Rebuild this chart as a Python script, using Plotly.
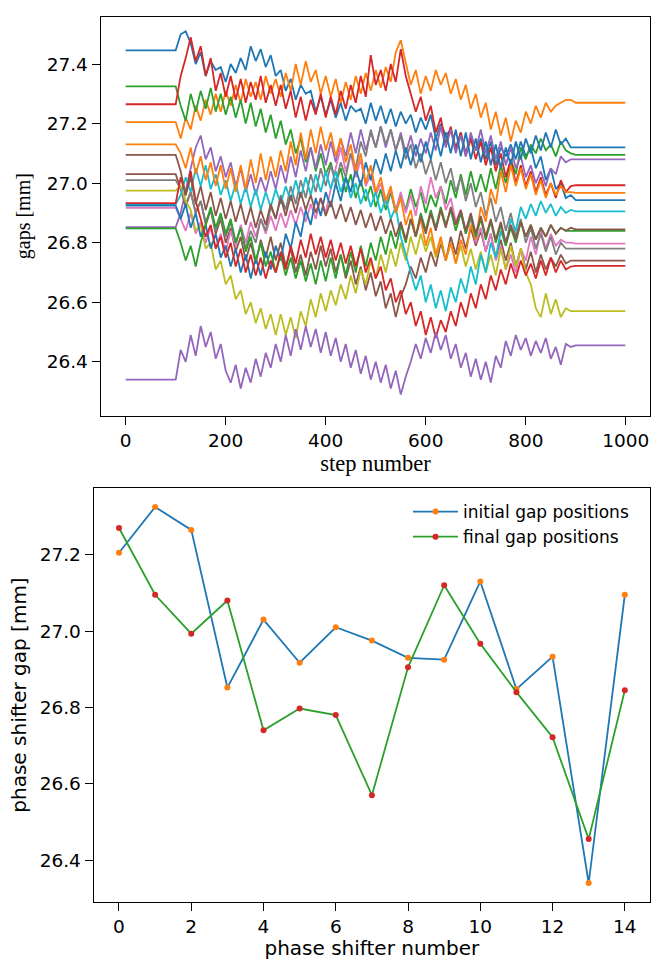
import plotly.graph_objects as go

# ---------------- data ----------------
colors = ['#1f77b4', '#ff7f0e', '#2ca02c', '#d62728', '#9467bd',
          '#8c564b', '#e377c2', '#7f7f7f', '#bcbd22', '#17becf']

# phase shifter gaps (bottom panel, also start/end levels of top panel series 1..15)
ps_number = list(range(15))
ps_initial = [27.205, 27.325, 27.265, 26.852, 27.030, 26.917, 27.010, 26.975,
              26.930, 26.925, 27.130, 26.848, 26.933, 26.340, 27.095]
ps_final = [27.270, 27.095, 26.993, 27.080, 26.740, 26.797, 26.780, 26.570,
            26.905, 27.120, 26.967, 26.840, 26.722, 26.455, 26.845]

# extra (first) series in top panel
s0_initial = 27.446
s0_final = 26.943

# step layout of the top panel
flat_start_steps = [0, 100]
noise_first_step = 110
noise_step = 10
flat_end_steps = [900, 999]

# gap readings during the optimisation (steps 110 ... 890, every 10 steps)
gap_s00 = [27.50, 27.51, 27.47, 27.40, 27.44, 27.36, 27.41, 27.38, 27.39, 27.34,
           27.40, 27.37, 27.42, 27.38, 27.46, 27.41, 27.45, 27.39, 27.43, 27.36,
           27.38, 27.31, 27.35, 27.28, 27.33, 27.30, 27.31, 27.24, 27.29, 27.23,
           27.28, 27.22, 27.27, 27.21, 27.26, 27.24, 27.25, 27.20, 27.27, 27.21,
           27.26, 27.20, 27.25, 27.19, 27.24, 27.20, 27.23, 27.17, 27.22, 27.18,
           27.23, 27.15, 27.20, 27.16, 27.18, 27.12, 27.17, 27.10, 27.16, 27.11,
           27.15, 27.08, 27.14, 27.06, 27.12, 27.09, 27.13, 27.08, 27.14, 27.09,
           27.12, 27.05, 27.09, 27.01, 27.05, 26.98, 27.00, 26.95, 26.96]
gap_s01 = [27.15, 27.22, 27.18, 27.26, 27.21, 27.28, 27.23, 27.30, 27.24, 27.31,
           27.26, 27.33, 27.27, 27.35, 27.29, 27.34, 27.28, 27.36, 27.30, 27.35,
           27.29, 27.37, 27.31, 27.40, 27.33, 27.41, 27.34, 27.38, 27.30, 27.36,
           27.29, 27.35, 27.27, 27.34, 27.28, 27.36, 27.30, 27.37, 27.31, 27.38,
           27.32, 27.39, 27.34, 27.44, 27.48, 27.40, 27.33, 27.38, 27.30, 27.36,
           27.31, 27.38, 27.33, 27.37, 27.30, 27.35, 27.28, 27.33, 27.25, 27.30,
           27.22, 27.27, 27.18, 27.24, 27.16, 27.22, 27.14, 27.21, 27.17, 27.24,
           27.20, 27.26, 27.22, 27.27, 27.24, 27.26, 27.27, 27.28, 27.28]
gap_s02 = [27.26, 27.21, 27.30, 27.24, 27.31, 27.25, 27.32, 27.24, 27.30, 27.23,
           27.29, 27.22, 27.28, 27.20, 27.27, 27.19, 27.25, 27.17, 27.23, 27.15,
           27.21, 27.13, 27.18, 27.10, 27.15, 27.07, 27.12, 27.04, 27.10, 27.03,
           27.07, 27.00, 27.05, 26.97, 27.03, 26.95, 27.01, 26.94, 26.99, 26.92,
           26.98, 26.91, 26.97, 26.90, 26.96, 26.91, 26.98, 26.92, 26.97, 26.90,
           26.96, 26.92, 26.99, 26.93, 27.01, 26.95, 27.03, 26.96, 27.04, 26.97,
           27.03, 26.97, 27.05, 26.98, 27.06, 27.00, 27.08, 27.03, 27.12, 27.08,
           27.13, 27.10, 27.15, 27.11, 27.13, 27.09, 27.14, 27.11, 27.10]
gap_s03 = [27.36, 27.42, 27.49, 27.41, 27.46, 27.36, 27.42, 27.31, 27.37, 27.29,
           27.36, 27.28, 27.35, 27.27, 27.34, 27.28, 27.36, 27.27, 27.33, 27.26,
           27.33, 27.25, 27.31, 27.22, 27.29, 27.21, 27.28, 27.23, 27.30, 27.22,
           27.29, 27.23, 27.31, 27.25, 27.33, 27.27, 27.36, 27.29, 27.43, 27.33,
           27.38, 27.31, 27.40, 27.34, 27.45, 27.36, 27.30, 27.24, 27.29, 27.21,
           27.26, 27.17, 27.22, 27.13, 27.19, 27.11, 27.17, 27.09, 27.15, 27.08,
           27.14, 27.06, 27.12, 27.04, 27.10, 27.02, 27.08, 27.00, 27.06, 26.99,
           27.04, 26.97, 27.02, 26.96, 27.00, 26.95, 27.01, 26.97, 26.99]
gap_s04 = [26.90, 26.98, 27.05, 27.12, 27.16, 27.08, 27.12, 27.04, 27.09, 27.02,
           27.07, 26.99, 27.05, 26.97, 27.03, 26.96, 27.02, 26.97, 27.04, 26.98,
           27.06, 27.00, 27.09, 27.02, 27.11, 27.04, 27.12, 27.05, 27.13, 27.06,
           27.14, 27.07, 27.15, 27.09, 27.17, 27.10, 27.18, 27.11, 27.17, 27.12,
           27.19, 27.12, 27.18, 27.11, 27.17, 27.10, 27.16, 27.09, 27.15, 27.10,
           27.17, 27.11, 27.19, 27.12, 27.18, 27.10, 27.16, 27.09, 27.17, 27.11,
           27.18, 27.10, 27.16, 27.08, 27.14, 27.06, 27.12, 27.05, 27.09, 27.02,
           27.06, 27.00, 27.04, 26.99, 27.05, 27.03, 27.09, 27.07, 27.08]
gap_s05 = [26.98, 26.92, 26.97, 26.90, 26.94, 26.86, 26.91, 26.83, 26.88, 26.80,
           26.85, 26.77, 26.82, 26.74, 26.80, 26.73, 26.81, 26.75, 26.82, 26.74,
           26.80, 26.72, 26.78, 26.70, 26.76, 26.69, 26.77, 26.71, 26.79, 26.72,
           26.78, 26.70, 26.76, 26.68, 26.74, 26.66, 26.72, 26.64, 26.70, 26.62,
           26.67, 26.58, 26.63, 26.55, 26.62, 26.66, 26.72, 26.68, 26.75, 26.70,
           26.77, 26.72, 26.80, 26.74, 26.82, 26.76, 26.84, 26.78, 26.85, 26.79,
           26.84, 26.77, 26.83, 26.75, 26.81, 26.74, 26.80, 26.72, 26.78, 26.71,
           26.77, 26.70, 26.76, 26.71, 26.75, 26.72, 26.76, 26.73, 26.74]
gap_s06 = [26.88, 26.84, 26.90, 26.83, 26.87, 26.80, 26.85, 26.78, 26.83, 26.77,
           26.84, 26.79, 26.86, 26.80, 26.87, 26.82, 26.88, 26.83, 26.89, 26.84,
           26.90, 26.85, 26.91, 26.86, 26.92, 26.87, 26.93, 26.88, 26.95, 26.90,
           26.98, 27.05, 27.12, 27.04, 27.10, 27.02, 27.08, 26.99, 27.03, 26.96,
           27.00, 26.93, 26.98, 26.91, 26.97, 26.90, 26.96, 26.89, 26.99, 26.93,
           27.02, 26.95, 26.99, 26.91, 26.95, 26.87, 26.91, 26.83, 26.88, 26.80,
           26.85, 26.77, 26.83, 26.74, 26.79, 26.71, 26.76, 26.70, 26.78, 26.74,
           26.82, 26.76, 26.84, 26.78, 26.83, 26.79, 26.81, 26.80, 26.80]
gap_s07 = [26.98, 26.93, 26.97, 26.90, 26.94, 26.87, 26.91, 26.84, 26.89, 26.82,
           26.87, 26.80, 26.85, 26.78, 26.84, 26.80, 26.88, 26.84, 26.92, 26.88,
           26.96, 26.91, 26.99, 26.93, 27.01, 26.95, 27.03, 26.97, 27.05, 26.99,
           27.06, 27.00, 27.07, 27.02, 27.10, 27.05, 27.14, 27.09, 27.18, 27.12,
           27.19, 27.13, 27.18, 27.11, 27.16, 27.08, 27.13, 27.05, 27.10, 27.03,
           27.08, 27.01, 27.07, 27.00, 27.05, 26.97, 27.02, 26.94, 27.00, 26.92,
           26.97, 26.89, 26.95, 26.87, 26.92, 26.84, 26.90, 26.82, 26.88, 26.80,
           26.85, 26.78, 26.83, 26.77, 26.82, 26.76, 26.80, 26.78, 26.78]
gap_s08 = [26.99, 26.94, 26.91, 26.84, 26.86, 26.78, 26.80, 26.71, 26.74, 26.66,
           26.69, 26.61, 26.64, 26.56, 26.60, 26.53, 26.58, 26.51, 26.56, 26.49,
           26.56, 26.49, 26.55, 26.48, 26.57, 26.52, 26.61, 26.55, 26.63, 26.57,
           26.64, 26.59, 26.66, 26.61, 26.69, 26.63, 26.71, 26.66, 26.74, 26.68,
           26.76, 26.70, 26.78, 26.72, 26.80, 26.74, 26.82, 26.76, 26.83, 26.77,
           26.82, 26.75, 26.81, 26.74, 26.80, 26.73, 26.79, 26.72, 26.78, 26.71,
           26.77, 26.70, 26.76, 26.69, 26.78, 26.71, 26.79, 26.72, 26.78, 26.70,
           26.66, 26.58, 26.55, 26.63, 26.56, 26.61, 26.55, 26.58, 26.57]
gap_s09 = [26.96, 27.02, 26.97, 27.05, 26.99, 27.06, 26.98, 27.03, 26.96, 27.01,
           26.94, 27.00, 26.93, 26.99, 26.92, 26.98, 26.91, 26.97, 26.92, 26.98,
           26.93, 26.99, 26.94, 27.01, 26.95, 27.02, 26.96, 27.03, 26.97, 27.04,
           26.98, 27.04, 26.97, 27.02, 26.95, 27.00, 26.93, 26.98, 26.92, 26.97,
           26.90, 26.95, 26.88, 26.92, 26.82, 26.76, 26.70, 26.64, 26.69, 26.60,
           26.66, 26.58, 26.64, 26.57, 26.65, 26.60, 26.68, 26.63, 26.72, 26.66,
           26.76, 26.70, 26.80, 26.75, 26.84, 26.79, 26.88, 26.84, 26.92, 26.88,
           26.93, 26.89, 26.94, 26.90, 26.93, 26.89, 26.92, 26.90, 26.91]
gap_s10 = [26.88, 26.93, 26.85, 26.90, 26.82, 26.86, 26.78, 26.83, 26.75, 26.79,
           26.72, 26.78, 26.70, 26.76, 26.68, 26.75, 26.69, 26.77, 26.71, 26.79,
           26.74, 26.83, 26.78, 26.87, 26.82, 26.91, 26.86, 26.95, 26.89, 26.97,
           26.92, 27.00, 26.94, 27.02, 26.97, 27.05, 26.99, 27.07, 27.01, 27.08,
           27.03, 27.10, 27.04, 27.11, 27.05, 27.12, 27.06, 27.13, 27.07, 27.14,
           27.08, 27.16, 27.09, 27.17, 27.10, 27.18, 27.09, 27.17, 27.08, 27.15,
           27.07, 27.14, 27.06, 27.13, 27.05, 27.12, 27.06, 27.14, 27.08, 27.15,
           27.10, 27.16, 27.11, 27.17, 27.12, 27.18, 27.13, 27.15, 27.12]
gap_s11 = [27.10, 27.05, 27.12, 27.03, 27.09, 27.01, 27.07, 26.99, 27.06, 26.98,
           27.05, 26.97, 27.06, 26.98, 27.08, 27.00, 27.10, 27.01, 27.09, 27.02,
           27.11, 27.04, 27.14, 27.06, 27.17, 27.08, 27.18, 27.10, 27.19, 27.11,
           27.17, 27.09, 27.15, 27.07, 27.13, 27.04, 27.10, 27.00, 27.06, 26.97,
           27.02, 26.94, 26.99, 26.90, 26.95, 26.86, 26.91, 26.82, 26.88, 26.79,
           26.85, 26.76, 26.82, 26.74, 26.80, 26.73, 26.81, 26.76, 26.86, 26.81,
           26.92, 26.87, 26.98, 26.93, 27.04, 26.97, 27.06, 26.99, 27.05, 26.98,
           27.03, 26.96, 27.01, 26.95, 27.00, 26.96, 26.99, 26.97, 26.97]
gap_s12 = [26.80, 26.74, 26.79, 26.72, 26.80, 26.86, 26.92, 26.85, 26.90, 26.83,
           26.88, 26.80, 26.85, 26.77, 26.82, 26.74, 26.80, 26.72, 26.77, 26.70,
           26.76, 26.69, 26.75, 26.68, 26.74, 26.67, 26.73, 26.66, 26.74, 26.67,
           26.75, 26.68, 26.76, 26.69, 26.77, 26.70, 26.79, 26.72, 26.80, 26.74,
           26.82, 26.76, 26.84, 26.78, 26.86, 26.80, 26.88, 26.82, 26.90, 26.84,
           26.91, 26.85, 26.92, 26.86, 26.91, 26.84, 26.90, 26.83, 26.89, 26.82,
           26.88, 26.81, 26.87, 26.80, 26.86, 26.79, 26.85, 26.80, 26.87, 26.82,
           26.86, 26.81, 26.85, 26.82, 26.86, 26.83, 26.85, 26.84, 26.84]
gap_s13 = [27.02, 26.96, 27.04, 26.94, 26.88, 26.82, 26.86, 26.78, 26.82, 26.75,
           26.80, 26.72, 26.78, 26.70, 26.76, 26.69, 26.75, 26.68, 26.74, 26.70,
           26.77, 26.71, 26.79, 26.73, 26.81, 26.75, 26.83, 26.76, 26.82, 26.75,
           26.81, 26.74, 26.80, 26.73, 26.79, 26.72, 26.78, 26.70, 26.75, 26.68,
           26.72, 26.64, 26.68, 26.60, 26.64, 26.56, 26.60, 26.52, 26.57, 26.49,
           26.55, 26.48, 26.54, 26.50, 26.57, 26.52, 26.60, 26.55, 26.63, 26.58,
           26.66, 26.61, 26.69, 26.64, 26.71, 26.66, 26.73, 26.68, 26.74, 26.69,
           26.73, 26.68, 26.74, 26.69, 26.75, 26.70, 26.74, 26.71, 26.72]
gap_s14 = [26.44, 26.40, 26.49, 26.42, 26.52, 26.45, 26.50, 26.41, 26.46, 26.37,
           26.33, 26.39, 26.31, 26.38, 26.33, 26.41, 26.35, 26.43, 26.38, 26.46,
           26.40, 26.49, 26.42, 26.51, 26.44, 26.52, 26.45, 26.51, 26.43, 26.50,
           26.42, 26.48, 26.40, 26.46, 26.38, 26.44, 26.36, 26.42, 26.34, 26.40,
           26.33, 26.39, 26.31, 26.37, 26.29, 26.35, 26.40, 26.46, 26.41, 26.48,
           26.43, 26.50, 26.44, 26.49, 26.41, 26.46, 26.38, 26.43, 26.35, 26.41,
           26.34, 26.40, 26.33, 26.42, 26.38, 26.47, 26.42, 26.49, 26.44, 26.48,
           26.42, 26.47, 26.43, 26.48, 26.41, 26.45, 26.39, 26.46, 26.45]
gap_s15 = [27.04, 26.96, 27.02, 26.93, 26.99, 26.91, 26.97, 26.89, 26.95, 26.88,
           26.94, 26.87, 26.93, 26.86, 26.92, 26.85, 26.91, 26.86, 26.93, 26.88,
           26.95, 26.89, 26.96, 26.90, 26.97, 26.91, 26.96, 26.90, 26.95, 26.89,
           26.94, 26.88, 26.93, 26.87, 26.92, 26.86, 26.91, 26.85, 26.90, 26.84,
           26.89, 26.83, 26.88, 26.82, 26.87, 26.81, 26.88, 26.82, 26.89, 26.83,
           26.90, 26.84, 26.91, 26.85, 26.92, 26.86, 26.91, 26.84, 26.90, 26.83,
           26.89, 26.82, 26.88, 26.81, 26.87, 26.80, 26.86, 26.81, 26.87, 26.82,
           26.86, 26.81, 26.85, 26.82, 26.86, 26.83, 26.85, 26.84, 26.85]

noise_series = [gap_s00, gap_s01, gap_s02, gap_s03, gap_s04, gap_s05, gap_s06, gap_s07,
                gap_s08, gap_s09, gap_s10, gap_s11, gap_s12, gap_s13, gap_s14, gap_s15]
start_levels = [s0_initial] + ps_initial
end_levels = [s0_final] + ps_final

# ---------------- figure ----------------
W, H = 665, 960
fig = go.Figure()

for i, noise in enumerate(noise_series):
    xs = flat_start_steps + [noise_first_step + noise_step * k for k in range(len(noise))] + flat_end_steps
    ys = [start_levels[i]] * 2 + noise + [end_levels[i]] * 2
    fig.add_trace(go.Scatter(x=xs, y=ys, mode='lines', showlegend=False,
                             line=dict(color=colors[i % 10], width=1.8),
                             xaxis='x', yaxis='y'))

fig.add_trace(go.Scatter(x=ps_number, y=ps_initial, mode='lines+markers',
                         name='initial gap positions',
                         line=dict(color='#1f77b4', width=1.8),
                         marker=dict(color='#ff7f0e', size=6),
                         xaxis='x2', yaxis='y2'))
fig.add_trace(go.Scatter(x=ps_number, y=ps_final, mode='lines+markers',
                         name='final gap positions',
                         line=dict(color='#2ca02c', width=1.8),
                         marker=dict(color='#d62728', size=6),
                         xaxis='x2', yaxis='y2'))

tick_font = dict(family='DejaVu Sans', size=18.5, color='black')
serif_x = dict(family='Liberation Serif', size=22.5, color='black')
serif_y = dict(family='Liberation Serif', size=20, color='black')
sans_title = dict(family='DejaVu Sans', size=20, color='black')

axis_common = dict(showline=True, mirror=True, linecolor='black', linewidth=1.3,
                   ticks='outside', ticklen=8, tickwidth=1.3, tickcolor='black',
                   showgrid=False, zeroline=False, tickfont=tick_font)

fig.update_layout(
    width=W, height=H, autosize=False,
    margin=dict(l=0, r=0, t=0, b=0),
    paper_bgcolor='white', plot_bgcolor='white',
    xaxis=dict(domain=[100.7 / W, 650.3 / W], range=[-49.95, 1048.95],
               tickvals=[0, 200, 400, 600, 800, 1000], anchor='y',
               title=dict(text='step number', font=serif_x, standoff=4), **axis_common),
    yaxis=dict(domain=[1 - 415.7 / H, 1 - 16.7 / H], range=[26.219, 27.559],
               tickvals=[26.4, 26.6, 26.8, 27.0, 27.2, 27.4], tickformat='.1f', anchor='x',
               title=dict(text='gaps [mm]', font=serif_y, standoff=10), **axis_common),
    xaxis2=dict(domain=[93.7 / W, 650.1 / W], range=[-0.7, 14.7],
                tickvals=[0, 2, 4, 6, 8, 10, 12, 14], anchor='y2',
                title=dict(text='phase shifter number', font=sans_title, standoff=6), **axis_common),
    yaxis2=dict(domain=[1 - 901.7 / H, 1 - 488.3 / H], range=[26.291, 27.374],
                tickvals=[26.4, 26.6, 26.8, 27.0, 27.2], tickformat='.1f', anchor='x2',
                title=dict(text='phase shifter gap [mm]', font=sans_title, standoff=7), **axis_common),
    legend=dict(x=408 / W, y=1 - 494 / H, xanchor='left', yanchor='top',
                bgcolor='rgba(255,255,255,0.8)', borderwidth=0, itemwidth=45,
                font=dict(family='DejaVu Sans', size=17, color='black'),
                tracegroupgap=0),
)

fig.write_html('out.html')
